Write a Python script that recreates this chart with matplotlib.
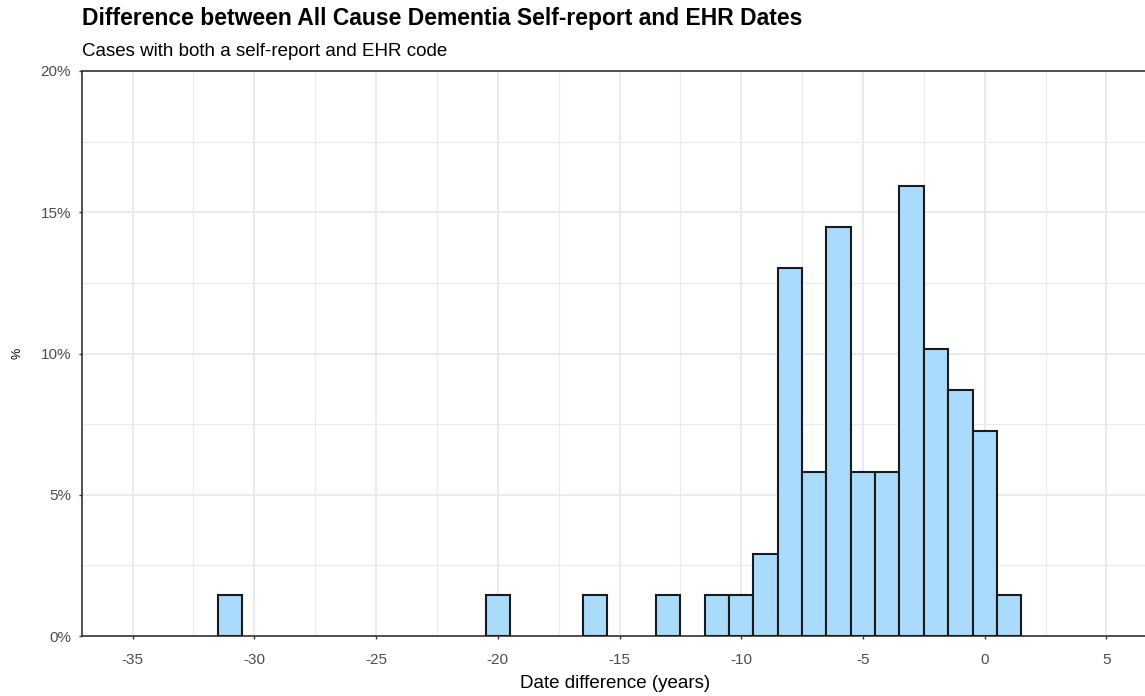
import numpy as np
import matplotlib.pyplot as plt
from matplotlib.ticker import MultipleLocator, PercentFormatter

plt.rcParams['font.family'] = ['Liberation Sans', 'DejaVu Sans']
plt.rcParams['axes.unicode_minus'] = False

# years between self-report and EHR date (bin centres, binwidth 1) and case counts
diff_years = [-31, -20, -16, -13, -11, -10, -9, -8, -7, -6, -5, -4, -3, -2, -1, 0, 1]
n_cases = [1, 1, 1, 1, 1, 1, 2, 9, 4, 10, 4, 4, 11, 7, 6, 5, 1]

pct = np.array(n_cases) / sum(n_cases) * 100

fig = plt.figure(figsize=(11.45, 6.96), dpi=100)
ax = fig.add_axes([82/1145, 1 - 636/696, 1 - 82/1145 + 0.002, (636 - 71)/696])

ax.bar(diff_years, pct, width=1.0, color='#ABDBFC', edgecolor='#1a1a1a',
       linewidth=1.5, zorder=3)

ax.set_xlim(-37.08, 6.68)
ax.set_ylim(0, 20)
ax.xaxis.set_major_locator(MultipleLocator(5))
ax.xaxis.set_minor_locator(MultipleLocator(2.5))
ax.yaxis.set_major_locator(MultipleLocator(5))
ax.yaxis.set_minor_locator(MultipleLocator(2.5))
ax.yaxis.set_major_formatter(PercentFormatter(decimals=0))

ax.grid(which='major', color='#EBEBEB', linewidth=1.4, zorder=0)
ax.grid(which='minor', color='#EBEBEB', linewidth=0.8, zorder=0)
ax.tick_params(which='minor', length=0)
ax.tick_params(which='major', length=2.5, width=1.0, color='#333333',
               labelcolor='#4D4D4D', labelsize=11)
ax.tick_params(axis='x', pad=9.5)
ax.tick_params(axis='y', pad=5.5)

for s in ax.spines.values():
    s.set_color('#333333')
    s.set_linewidth(1.2)
ax.spines['right'].set_visible(False)

ax.set_xlabel('Date difference (years)', fontsize=13.5, color='black', labelpad=6)
ax.set_ylabel('%', fontsize=9, color='black', labelpad=12)

fig.text(82/1145, 1 - 19/696, 'Difference between All Cause Dementia Self-report and EHR Dates',
         fontsize=16.5, fontweight='bold', va='center', ha='left')
fig.text(82/1145, 1 - 52/696, 'Cases with both a self-report and EHR code',
         fontsize=13.5, va='center', ha='left')

fig.savefig('out.png', dpi=100)
